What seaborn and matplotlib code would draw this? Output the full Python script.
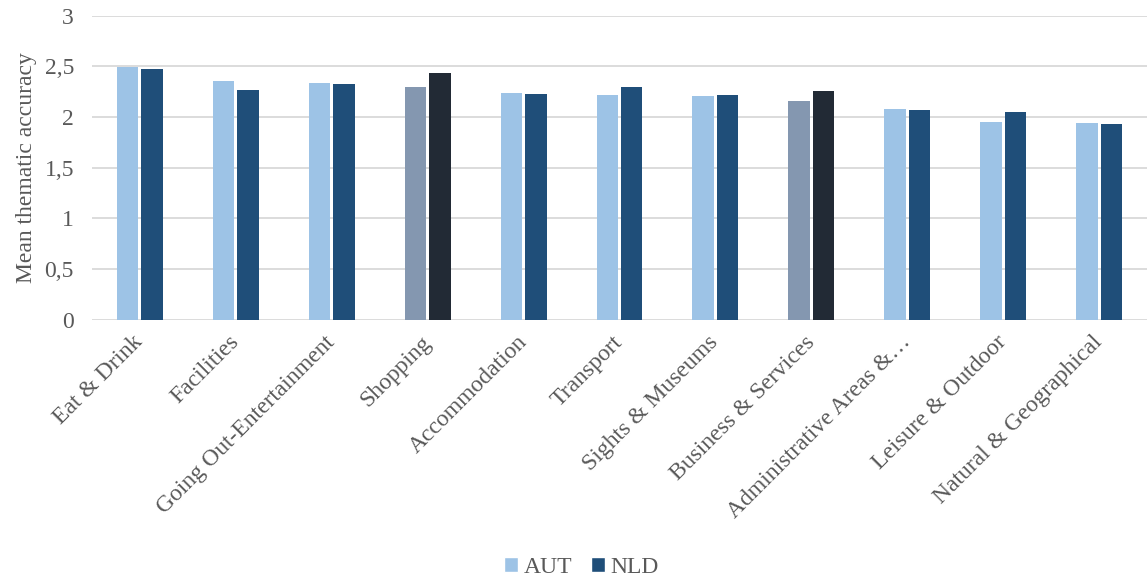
import matplotlib
matplotlib.use("Agg")
import matplotlib.pyplot as plt
from matplotlib.patches import Patch
import seaborn as sns
import pandas as pd

categories = ["Eat & Drink", "Facilities", "Going Out-Entertainment", "Shopping",
              "Accommodation", "Transport", "Sights & Museums", "Business & Services",
              "Administrative Areas &…", "Leisure & Outdoor", "Natural & Geographical"]
aut = [2.49, 2.355, 2.335, 2.295, 2.235, 2.22, 2.21, 2.155, 2.075, 1.95, 1.94]
nld = [2.475, 2.27, 2.33, 2.435, 2.225, 2.295, 2.215, 2.255, 2.065, 2.045, 1.935]
countries = ["AUT", "NLD"]
highlighted = ["Shopping", "Business & Services"]

c_aut, c_nld = "#9DC3E6", "#1F4E79"
c_aut_hl, c_nld_hl = "#8497B0", "#222A35"
text_col = "#595959"
fs = 17

df = pd.DataFrame({
    "category": categories * 2,
    "country": ["AUT"] * len(categories) + ["NLD"] * len(categories),
    "value": aut + nld,
})

sns.set_theme(style="white")
plt.rcParams["font.family"] = ["Liberation Serif", "DejaVu Serif"]

fig = plt.figure(figsize=(11.47, 5.78), dpi=100)
ax = fig.add_axes([0.0802, 0.447, 0.9198, 0.526])

sns.barplot(data=df, x="category", y="value", hue="country", order=categories,
            hue_order=countries, palette=[c_aut, c_nld], width=0.51, gap=0.12,
            saturation=1, legend=False, ax=ax, zorder=3)

# Recolour the highlighted categories
n = len(categories)
for i, patch in enumerate(ax.patches[:2 * n]):
    cat = categories[i % n]
    if cat in highlighted:
        patch.set_facecolor(c_aut_hl if i < n else c_nld_hl)
    patch.set_edgecolor("none")

ax.set_ylim(0, 3)
ax.set_xlim(-0.5, n - 0.5)
ax.set_yticks([0, 0.5, 1, 1.5, 2, 2.5, 3])
ax.set_yticklabels(["0", "0,5", "1", "1,5", "2", "2,5", "3"])
ax.yaxis.grid(True, color="#D9D9D9", linewidth=1.3, zorder=0)
ax.set_axisbelow(True)
for s in ax.spines.values():
    s.set_visible(False)
ax.tick_params(axis="both", length=0, labelsize=fs, colors=text_col)
ax.tick_params(axis="y", pad=13)
ax.set_xticks(range(n))
ax.set_xticklabels(categories, rotation=45, ha="right", va="center",
                   rotation_mode="anchor")
ax.tick_params(axis="x", pad=14)
ax.set_xlabel("")
ax.set_ylabel("Mean thematic accuracy", fontsize=fs, color=text_col, labelpad=5)

handles = [Patch(facecolor=c_aut, label="AUT"), Patch(facecolor=c_nld, label="NLD")]
fig.legend(handles=handles, loc="center", bbox_to_anchor=(0.507, 0.019), ncol=2,
           frameon=False, fontsize=fs, labelcolor=text_col, handlelength=0.6,
           handleheight=0.6, handletextpad=0.25, columnspacing=0.75)

fig.savefig("out.png", dpi=100)
